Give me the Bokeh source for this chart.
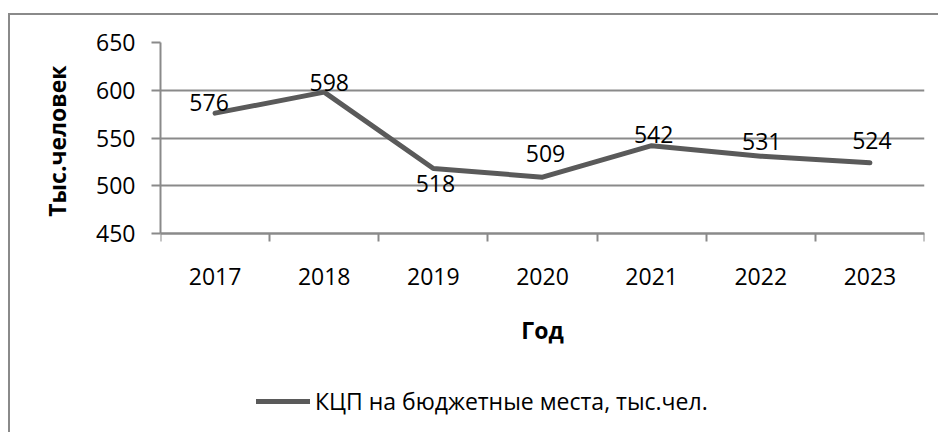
from bokeh.plotting import figure
from bokeh.models import Range1d, FixedTicker, Legend, LegendItem, ColumnDataSource, Title
from bokeh.embed import file_html
from bokeh.resources import INLINE
from bokeh.core.properties import value

# ---- data ----
years = ["2017", "2018", "2019", "2020", "2021", "2022", "2023"]
values = [576, 598, 518, 509, 542, 531, 524]
y_ticks = [450, 500, 550, 600, 650]
series_name = "КЦП на бюджетные места, тыс.чел."
x_title = "Год"
y_title = "Тыс.человек"

# label placement offsets (screen px) to mimic the reference
label_dx = [-6, 5, 2, 3, 2, 1, 2]
label_dy = [-11, -10, 15, -24, -11, -15, -22]

FONT = "Open Sans"
FS = "23px"
GRID = "#8a8a8a"
LINE = "#5a5a5a"

# ---- layout geometry (pixels) ----
W, H = 938, 432
LEFT, RIGHT, TOP = 160, 14, 42
PLOT_H = 191                      # pixel height of the 450..650 band
FRAME_H = H - TOP                 # frame runs to the canvas bottom
y_lo, y_hi = y_ticks[0], y_ticks[-1]
y_start = y_hi - (y_hi - y_lo) * FRAME_H / PLOT_H

xs = [i + 0.5 for i in range(len(years))]

p = figure(width=W, height=H, output_backend="svg", toolbar_location=None,
           x_range=Range1d(0, len(years)), y_range=Range1d(y_start, y_hi),
           min_border_left=LEFT, min_border_right=RIGHT, min_border_top=TOP,
           min_border_bottom=0)
p.outline_line_color = None
p.background_fill_color = "white"
p.border_fill_color = None
p.styles = {"box-shadow": "inset 8px 13px 0 0 white, inset 10px 15px 0 0 #8a8a8a"}

src = ColumnDataSource(dict(x=xs, y=values, t=[str(v) for v in values],
                            dx=label_dx, dy=label_dy))

r = p.line("x", "y", source=src, line_color=LINE, line_width=5,
           line_cap="round", line_join="round")
p.text("x", "y", text="t", source=src, x_offset="dx", y_offset="dy",
       text_align="center", text_baseline="middle",
       text_font=value(FONT), text_font_size=FS, text_color="black")

# x axis, pinned at y = 450
xa = p.xaxis[0]
xa.fixed_location = y_lo
xa.ticker = FixedTicker(ticks=xs, minor_ticks=list(range(len(years) + 1)))
xa.major_label_overrides = {x: y for x, y in zip(xs, years)}
xa.major_tick_out = 0
xa.major_tick_in = 0
xa.minor_tick_out = 8
xa.minor_tick_in = 0
xa.minor_tick_line_color = GRID
xa.minor_tick_line_width = 2
xa.axis_line_color = GRID
xa.axis_line_width = 2
xa.major_label_standoff = 26
xa.major_label_text_font = FONT
xa.major_label_text_font_size = FS
xa.major_label_text_color = "black"
xa.axis_label = x_title
xa.axis_label_text_font = FONT
xa.axis_label_text_font_size = FS
xa.axis_label_text_font_style = "bold"
xa.axis_label_text_color = "black"
xa.axis_label_standoff = 26

# y axis
ya = p.yaxis[0]
ya.bounds = (y_lo, y_hi)
ya.ticker = FixedTicker(ticks=y_ticks, minor_ticks=[])
ya.major_tick_out = 9
ya.major_tick_in = 0
ya.major_tick_line_color = GRID
ya.major_tick_line_width = 2
ya.axis_line_color = GRID
ya.axis_line_width = 2
ya.major_label_standoff = 16
ya.major_label_text_font = FONT
ya.major_label_text_font_size = FS
ya.major_label_text_color = "black"

# y title, centred on the 450..650 band
ytitle = Title(text=y_title, align="right", offset=23, standoff=42,
               text_font=FONT, text_font_size=FS, text_font_style="bold",
               text_color="black")
p.add_layout(ytitle, "left")

p.xgrid.visible = False
p.ygrid.ticker = FixedTicker(ticks=y_ticks, minor_ticks=[])
p.ygrid.grid_line_color = GRID
p.ygrid.grid_line_width = 2

legend = Legend(items=[LegendItem(label=series_name, renderers=[r])],
                location=(96, 15), orientation="horizontal",
                glyph_width=54, glyph_height=30, label_standoff=5,
                padding=0, margin=0, border_line_color=None,
                background_fill_alpha=0,
                label_text_font=FONT, label_text_font_size=FS,
                label_text_color="black")
p.add_layout(legend, "center")

open("out.html", "w").write(file_html(p, INLINE))
